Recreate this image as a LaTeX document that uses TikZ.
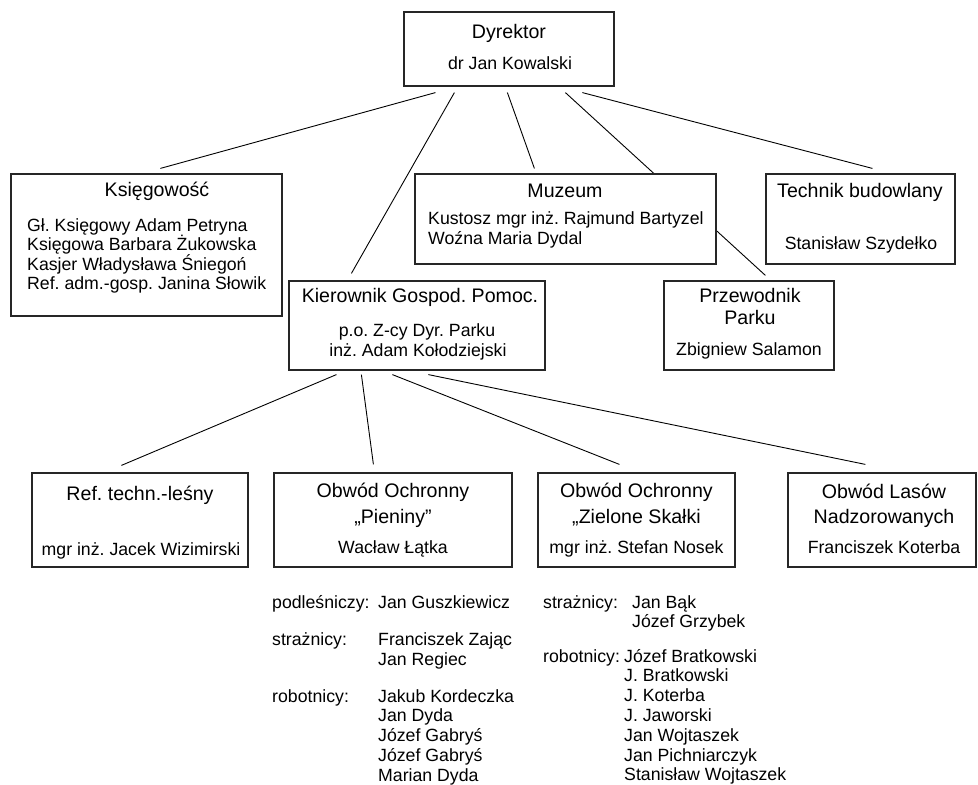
\documentclass[tikz,border=0pt]{standalone}
\usepackage{fontspec}
\setmainfont{Liberation Sans}
\usetikzlibrary{calc,backgrounds}
\frenchspacing

\begin{document}
\begin{tikzpicture}[x=1pt,y=-1pt,
		box/.style={draw=black!85,line width=1.2pt,fill=white,inner sep=0pt},
		ttl/.style={font=\fontsize{19.6}{23}\selectfont,inner sep=0pt,anchor=base},
		pers/.style={font=\fontsize{17.7}{20}\selectfont,inner sep=0pt,anchor=base},
		entry/.style={pers,anchor=base west},
		link/.style={line width=0.9pt}]
	\useasboundingbox (0,0) rectangle (978,785);

	\node[box,minimum width=210pt,minimum height=74pt] (dyr) at (509,49) {};
	\node[ttl] (dyrT) at (509,38.5) {Dyrektor};
	\node[pers] (dyrN) at (510,69) {dr Jan Kowalski};

	\node[box,minimum width=271pt,minimum height=142pt] (ksi) at (146.5,245) {};
	\node[ttl] (ksiT) at (157,196.5) {Księgowość};
	\node[entry] (ksi1) at (27,231) {Gł. Księgowy Adam Petryna};
	\node[entry] (ksi2) at (27,250.5) {Księgowa Barbara Żukowska};
	\node[entry] (ksi3) at (27,270) {Kasjer Władysława Śniegoń};
	\node[entry] (ksi4) at (27,289.5) {Ref. adm.-gosp. Janina Słowik};

	\node[box,minimum width=301pt,minimum height=90pt] (muz) at (565.5,219) {};
	\node[ttl] (muzT) at (565,197.5) {Muzeum};
	\node[entry] (muz1) at (428,224) {Kustosz mgr inż. Rajmund Bartyzel};
	\node[entry] (muz2) at (428,244.5) {Woźna Maria Dydal};

	\node[box,minimum width=189pt,minimum height=90pt] (tec) at (860.5,219) {};
	\node[ttl] (tecT) at (860,197.5) {Technik budowlany};
	\node[pers] (tecN) at (861,249) {Stanisław Szydełko};

	\node[box,minimum width=256pt,minimum height=89pt] (kie) at (417,325.5) {};
	\node[ttl] (kieT) at (420,302.5) {Kierownik Gospod. Pomoc.};
	\node[pers] (kie1) at (417,336) {p.o. Z-cy Dyr. Parku};
	\node[pers] (kie2) at (418,356) {inż. Adam Kołodziejski};

	\node[box,minimum width=170pt,minimum height=89pt] (prz) at (749,325.5) {};
	\node[ttl] (przT) at (750,302.5) {Przewodnik};
	\node[ttl] (przP) at (750,324) {Parku};
	\node[pers] (przN) at (749,355) {Zbigniew Salamon};

	\node[box,minimum width=216pt,minimum height=94pt] (ref) at (140,520) {};
	\node[ttl] (refT) at (140,500.5) {Ref. techn.-leśny};
	\node[pers] (refN) at (141,555) {mgr inż. Jacek Wizimirski};

	\node[box,minimum width=238pt,minimum height=94pt] (pie) at (393,520) {};
	\node[ttl] (pieT) at (393,497.5) {Obwód Ochronny};
	\node[ttl] (pieQ) at (393,523.5) {„Pieniny”};
	\node[pers] (pieN) at (393,553) {Wacław Łątka};

	\node[box,minimum width=197pt,minimum height=94pt] (zie) at (636.5,520) {};
	\node[ttl] (zieT) at (636.5,497.5) {Obwód Ochronny};
	\node[ttl] (zieQ) at (636.5,523.5) {„Zielone Skałki};
	\node[pers] (zieN) at (636.5,553) {mgr inż. Stefan Nosek};

	\node[box,minimum width=188pt,minimum height=94pt] (las) at (882,520) {};
	\node[ttl] (lasT) at (884,498.5) {Obwód Lasów};
	\node[ttl] (lasQ) at (884,523.5) {Nadzorowanych};
	\node[pers] (lasN) at (884,553) {Franciszek Koterba};

	\node[entry] (pieL1) at (272,608) {podleśniczy:};
	\node[entry] (pieL2) at (272,645) {strażnicy:};
	\node[entry] (pieL3) at (272,702) {robotnicy:};
	\node[entry] (pieP1) at (378,608) {Jan Guszkiewicz};
	\foreach \who [count=\i] in {Franciszek Zając, Jan Regiec}
		\node[entry] (pieS\i) at (378,625+20*\i) {\who};
	\foreach \who [count=\i] in {Jakub Kordeczka, Jan Dyda, Józef Gabryś, Józef Gabryś, Marian Dyda}
		\node[entry] (pieR\i) at (378,682.2+19.8*\i) {\who};

	\node[entry] (zieL1) at (543,608) {strażnicy:};
	\node[entry] (zieL2) at (543,662) {robotnicy:};
	\foreach \who [count=\i] in {Jan Bąk, Józef Grzybek}
		\node[entry] (zieS\i) at (632,588.3+19.7*\i) {\who};
	\foreach \who [count=\i] in {Józef Bratkowski, J. Bratkowski, J. Koterba, J. Jaworski, Jan Wojtaszek, Jan Pichniarczyk, Stanisław Wojtaszek}
		\node[entry] (zieR\i) at (624,642.2+19.8*\i) {\who};

	\begin{scope}[on background layer]
		\draw[link] ($(dyr.south west)+(32,6)$) -- ($(ksi.north west)+(150,-5)$);
		\draw[link] ($(dyr.south west)+(51,6)$) -- ($(kie.north west)+(63,-7)$);
		\draw[link] ($(dyr.south west)+(104,6)$) -- ($(muz.north west)+(120,-5)$);
		\draw[link] ($(dyr.south west)+(162,6)$) -- ($(prz.north west)+(102,-5)$);
		\draw[link] ($(dyr.south west)+(179,6)$) -- ($(tec.north west)+(107,-5)$);
		\draw[link] ($(kie.south west)+(48,4)$) -- ($(ref.north west)+(90,-7)$);
		\draw[link] ($(kie.south west)+(73,4)$) -- ($(pie.north west)+(100,-8)$);
		\draw[link] ($(kie.south west)+(104,4)$) -- ($(zie.north west)+(82,-8)$);
		\draw[link] ($(kie.south west)+(140,4)$) -- ($(las.north west)+(78,-8)$);
	\end{scope}
\end{tikzpicture}
\end{document}
